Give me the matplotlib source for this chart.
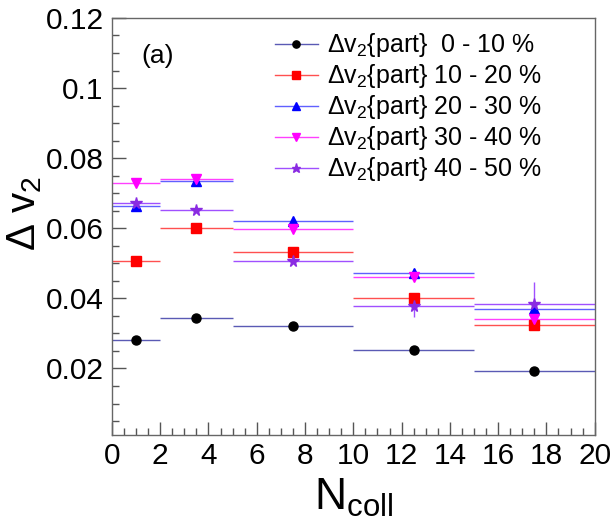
import matplotlib
matplotlib.use("Agg")
import matplotlib.pyplot as plt
from matplotlib.lines import Line2D
from matplotlib.ticker import MultipleLocator, FixedLocator, FixedFormatter

plt.rcParams['font.family'] = ['Liberation Sans', 'DejaVu Sans']
plt.rcParams['mathtext.fontset'] = 'custom'
plt.rcParams['mathtext.rm'] = 'Liberation Sans'
plt.rcParams['mathtext.it'] = 'Liberation Sans:italic'
plt.rcParams['mathtext.default'] = 'rm'

# ---- data ----
ncoll_center = [1.0, 3.5, 7.5, 12.5, 17.5]
bin_low = [0.0, 2.0, 5.0, 10.0, 15.0]
bin_high = [2.0, 5.0, 10.0, 15.0, 20.0]

labels = ['Δv$_2${part}  0 - 10 %', 'Δv$_2${part} 10 - 20 %', 'Δv$_2${part} 20 - 30 %',
          'Δv$_2${part} 30 - 40 %', 'Δv$_2${part} 40 - 50 %']

dv2_0_10 = [0.0280, 0.0345, 0.0321, 0.0254, 0.0194]
dv2_10_20 = [0.0507, 0.0602, 0.0531, 0.0401, 0.0324]
dv2_20_30 = [0.0663, 0.0735, 0.0620, 0.0473, 0.0371]
dv2_30_40 = [0.0728, 0.0740, 0.0599, 0.0462, 0.0341]
dv2_40_50 = [0.0671, 0.0653, 0.0508, 0.0378, 0.0385]

err_0_10 = [0.0003, 0.0003, 0.0003, 0.0003, 0.0003]
err_10_20 = [0.0005, 0.0005, 0.0005, 0.0008, 0.0010]
err_20_30 = [0.0006, 0.0006, 0.0008, 0.0010, 0.0015]
err_30_40 = [0.0006, 0.0008, 0.0008, 0.0010, 0.0015]
err_40_50 = [0.0008, 0.0008, 0.0008, 0.0030, 0.0062]

y_ticks = [0.02, 0.04, 0.06, 0.08, 0.10, 0.12]
y_tick_labels = ['0.02', '0.04', '0.06', '0.08', '0.1', '0.12']
x_ticks = [0, 2, 4, 6, 8, 10, 12, 14, 16, 18, 20]

series = [dv2_0_10, dv2_10_20, dv2_20_30, dv2_30_40, dv2_40_50]
errs = [err_0_10, err_10_20, err_20_30, err_30_40, err_40_50]
marker_colors = ['black', '#ff0000', '#0000ff', '#ff00ff', '#8a2be2']
line_colors = ['#5a5ab4', '#ff5050', '#6060ff', '#ff40ff', '#a050ff']
markers = ['o', 's', '^', 'v', '*']
msizes = [6.5, 6.5, 6.5, 6.5, 8.5]

fig = plt.figure(figsize=(6.15, 5.28), dpi=100)
ax = fig.add_axes([0.182, 0.176, 0.785, 0.790])

xerr = [[c - lo for c, lo in zip(ncoll_center, bin_low)],
        [hi - c for c, hi in zip(ncoll_center, bin_high)]]

handles = []
for vals, e, mc, lc, mk, ms, lab in zip(series, errs, marker_colors, line_colors, markers, msizes, labels):
    ax.errorbar(ncoll_center, vals, xerr=xerr, yerr=e, fmt=mk, color=lc, ecolor=lc,
                elinewidth=1.0, capsize=0, markersize=ms, markerfacecolor=mc,
                markeredgecolor=mc)
    handles.append(Line2D([], [], color=lc, lw=1.0, marker=mk, markersize=ms * 0.8,
                          markerfacecolor=mc, markeredgecolor=mc, label=lab))

ax.set_xlim(0, 20)
ax.set_ylim(0.001, 0.12)

ax.xaxis.set_major_locator(FixedLocator(x_ticks))
ax.xaxis.set_minor_locator(MultipleLocator(0.5))
ax.yaxis.set_major_locator(FixedLocator(y_ticks))
ax.yaxis.set_major_formatter(FixedFormatter(y_tick_labels))
ax.yaxis.set_minor_locator(MultipleLocator(0.005))

ax.tick_params(axis='both', which='both', direction='in', top=False, right=False,
               colors='#555555', labelcolor='black', labelsize=21.5, width=1.0)
ax.tick_params(axis='x', which='major', length=9.5, pad=5)
ax.tick_params(axis='y', which='major', length=10, pad=6)
ax.tick_params(axis='both', which='minor', length=5)
for s in ax.spines.values():
    s.set_color('#666666')
    s.set_linewidth(1.0)

ax.set_xlabel('N$_{\\mathrm{coll}}$', fontsize=32)
ax.xaxis.set_label_coords(0.5, -0.10)
ax.set_ylabel('Δ v$_2$', fontsize=29)
ax.yaxis.set_label_coords(-0.14, 0.53)

ax.text(0.062, 0.909, '(a)', transform=ax.transAxes, fontsize=19, ha='left', va='center')

leg = ax.legend(handles=handles, loc='upper left', bbox_to_anchor=(0.3375, 0.968),
                frameon=False, fontsize=18, handlelength=1.72, handletextpad=0.36,
                labelspacing=0.12, borderpad=0.0, borderaxespad=0.0)

fig.savefig('out.png', dpi=100)
